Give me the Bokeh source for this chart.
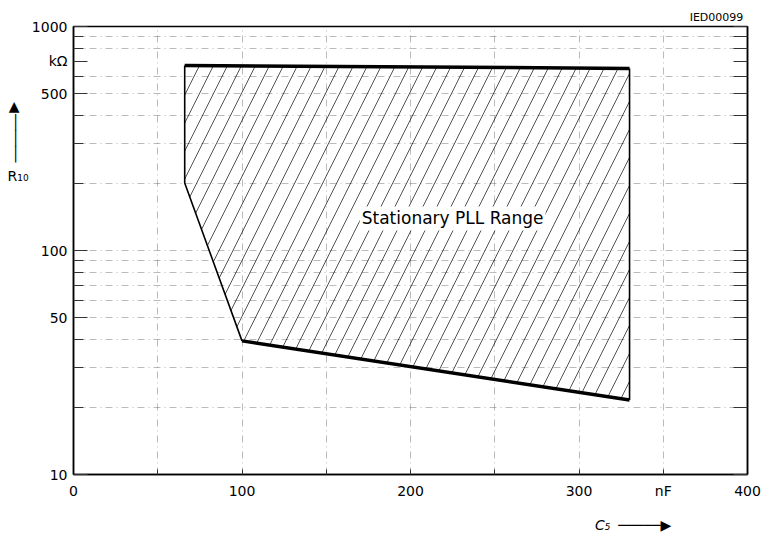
from bokeh.plotting import figure
from bokeh.models import FixedTicker, LogAxis, LinearAxis, Label
from bokeh.embed import file_html
from bokeh.resources import INLINE

# ---- data ----
region_c = [66, 330, 330, 100, 66]          # C5 in nF (polygon vertices)
region_r = [670, 650, 21.5, 39.5, 200]      # R10 in kOhm
x_ticks = [0, 100, 200, 300, 350, 400]
x_tick_labels = {350: "nF"}
x_grid = [50, 100, 150, 200, 250, 300, 350]
y_ticks = [10, 50, 100, 500, 700, 1000]
y_tick_labels = {700: "kΩ"}
y_minor = [20, 30, 40, 60, 70, 80, 90, 200, 300, 400, 600, 800, 900]
region_text = "Stationary PLL Range"
code_text = "IED00099"
x_title = "C₅"
y_title = "R₁₀"

FONT = "DejaVu Sans"

p = figure(width=762, height=535, x_range=(0, 400), y_range=(10, 1000),
           y_axis_type="log", output_backend="svg", toolbar_location=None,
           min_border_left=73, min_border_right=15, min_border_top=26,
           min_border_bottom=61)
p.background_fill_color = "white"
p.border_fill_color = "white"
p.outline_line_color = "black"
p.outline_line_width = 1.5

# grids
p.xgrid.ticker = FixedTicker(ticks=x_grid)
p.ygrid.ticker = FixedTicker(ticks=y_minor + [50, 100, 500])
for g in (p.xgrid, p.ygrid):
    g.grid_line_color = "#555555"
    g.grid_line_alpha = 0.5
    g.grid_line_width = 0.8
    g.grid_line_dash = "7 4 1 4"

# main axes
xa = p.xaxis[0]
xa.ticker = FixedTicker(ticks=x_ticks, minor_ticks=[50, 150, 250])
xa.major_label_overrides = {k: v for k, v in x_tick_labels.items()}
ya = p.yaxis[0]
ya.ticker = FixedTicker(ticks=y_ticks, minor_ticks=y_minor)
ya.major_label_overrides = {k: v for k, v in y_tick_labels.items()}
for ax in (xa, ya):
    ax.axis_line_color = "black"
    ax.axis_line_width = 1.5
    ax.major_tick_out = 0
    ax.minor_tick_out = 0
    ax.major_tick_in = 14
    ax.minor_tick_in = 10
    ax.major_tick_line_color = "#333333"
    ax.minor_tick_line_color = "#333333"
    ax.major_label_text_font = FONT
    ax.major_label_text_font_size = "14px"
    ax.major_label_text_color = "black"
xa.major_tick_in = 5
xa.minor_tick_in = 5
xa.major_label_standoff = 8
ya.major_label_standoff = 6

# right axis: inward ticks only
ra = LogAxis(ticker=FixedTicker(ticks=[], minor_ticks=y_ticks + y_minor),
             major_tick_out=0, minor_tick_out=0, minor_tick_in=14,
             axis_line_width=1.5, minor_tick_line_color="#333333")
p.add_layout(ra, "right")

# top axis carrying the drawing code
ta = LinearAxis(ticker=FixedTicker(ticks=[381.6]),
                major_label_overrides={381.6: code_text},
                major_tick_in=0, major_tick_out=0, axis_line_color=None,
                major_tick_line_color=None, minor_tick_line_color=None,
                major_label_standoff=3, major_label_text_font=FONT,
                major_label_text_font_size="11px", major_label_text_color="black")
p.add_layout(ta, "above")

# second bottom axis: x title with arrow
xt = LinearAxis(ticker=FixedTicker(ticks=[314, 339]),
                major_label_overrides={314: x_title, 339: "─────▶"},
                major_tick_in=0, major_tick_out=0, axis_line_color=None,
                major_tick_line_color=None, minor_tick_line_color=None,
                major_label_standoff=15, major_label_text_font=FONT,
                major_label_text_font_style="italic",
                major_label_text_font_size="14px", major_label_text_color="black")
p.add_layout(xt, "below")

# second left axis: y title with arrow
yt = LogAxis(ticker=FixedTicker(ticks=[216, 345]),
             major_label_overrides={216: y_title, 345: "▲  \n│  \n│  \n│  "},
             major_tick_in=0, major_tick_out=0, axis_line_color=None,
             major_tick_line_color=None, minor_tick_line_color=None,
             major_label_standoff=0, major_label_text_font=FONT,
             major_label_text_line_height=1.0,
             major_label_text_font_size="14px", major_label_text_color="black")
p.add_layout(yt, "left")

# region
p.patch(region_c, region_r, fill_alpha=0, line_color=None,
        hatch_pattern="/", hatch_color="black", hatch_scale=28,
        hatch_weight=0.8, hatch_alpha=0.85)
p.line(region_c[0:2], region_r[0:2], line_color="black", line_width=3.5)
p.line(region_c[2:4], region_r[2:4], line_color="black", line_width=3.5)
p.line(region_c[1:3], region_r[1:3], line_color="black", line_width=1.6)
p.line([region_c[3], region_c[4], region_c[0]],
       [region_r[3], region_r[4], region_r[0]], line_color="black", line_width=1.6)

p.add_layout(Label(x=225, y=139, text=region_text, text_font=FONT,
                   text_font_size="17px", text_align="center", text_color="black",
                   text_baseline="middle", background_fill_color="white",
                   padding=2))

open("out.html", "w").write(file_html(p, INLINE))
